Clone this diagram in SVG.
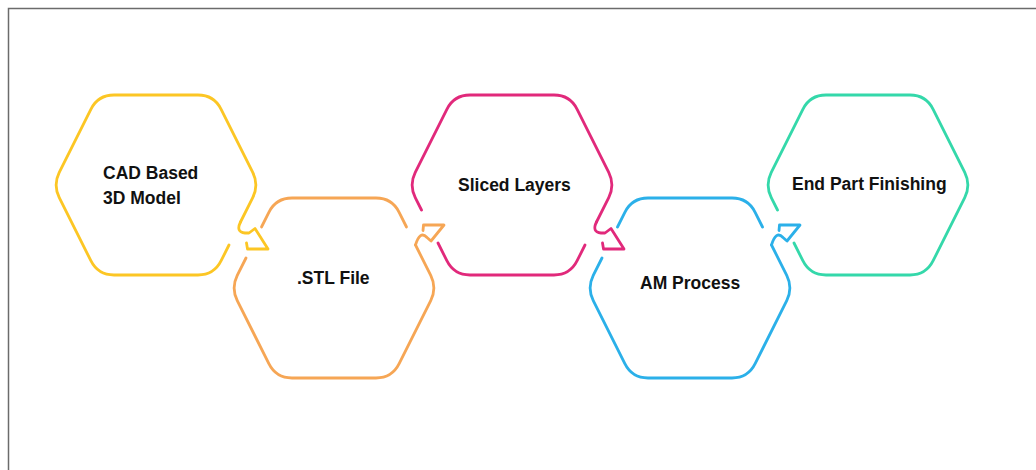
<svg xmlns="http://www.w3.org/2000/svg" width="1036" height="470" viewBox="0 0 1036 470">
<style>
.hx{fill:none;stroke-width:2.8;stroke-linecap:round;stroke-linejoin:round}
.y{stroke:#FCC624}.o{stroke:#F6A655}.p{stroke:#E1297B}.b{stroke:#2BB0E9}.g{stroke:#34D8AA}
.t{font-family:"Liberation Sans",Arial,sans-serif;font-weight:bold;font-size:17.5px;fill:#111}
</style>
<rect width="1036" height="470" fill="#fff"/>
<path d="M8.5,470 V8.5 H1036" fill="none" stroke="#6b6b6b" stroke-width="1.5"/>
<g id="node-cad">
<path class="hx y" d="M229,245 L221.15,260.7 Q214,275 198,275 L114,275 Q98,275 90.85,260.7 L59.26,197.52 Q53,185 59.26,172.48 L90.85,109.3 Q98,95 114,95 L198,95 Q214,95 221.15,109.3 L252.74,172.48 Q259,185 252.74,197.52 L240.5,222"/>
<text class="t" x="103" y="179">CAD Based</text>
<text class="t" x="103" y="204">3D Model</text>
</g>
<g id="node-stl">
<path class="hx o" d="M261.5,227 L268.85,212.3 Q276,198 292,198 L376,198 Q392,198 399.15,212.3 L406.5,227"/>
<path class="hx o" d="M415.5,245 L430.74,275.48 Q437,288 430.74,300.52 L399.15,363.7 Q392,378 376,378 L292,378 Q276,378 268.85,363.7 L237.26,300.52 Q231,288 237.26,275.48 L246,258"/>
<text class="t" x="297" y="284">.STL File</text>
</g>
<g id="node-sliced">
<path class="hx p" d="M438,243 L446.85,260.7 Q454,275 470,275 L554,275 Q570,275 577.15,260.7 L585,245"/>
<path class="hx p" d="M596.5,222 L608.74,197.52 Q615,185 608.74,172.48 L577.15,109.3 Q570,95 554,95 L470,95 Q454,95 446.85,109.3 L415.26,172.48 Q409,185 415.26,197.52 L421.5,210"/>
<text class="t" x="458" y="191">Sliced Layers</text>
</g>
<g id="node-am">
<path class="hx b" d="M617.5,227 L624.85,212.3 Q632,198 648,198 L732,198 Q748,198 755.15,212.3 L762.5,227"/>
<path class="hx b" d="M771.5,245 L786.74,275.48 Q793,288 786.74,300.52 L755.15,363.7 Q748,378 732,378 L648,378 Q632,378 624.85,363.7 L593.26,300.52 Q587,288 593.26,275.48 L602,258"/>
<text class="t" x="640" y="289">AM Process</text>
</g>
<g id="node-end">
<path class="hx g" d="M794,243 L802.85,260.7 Q810,275 826,275 L910,275 Q926,275 933.15,260.7 L964.74,197.52 Q971,185 964.74,172.48 L933.15,109.3 Q926,95 910,95 L826,95 Q810,95 802.85,109.3 L771.26,172.48 Q765,185 771.26,197.52 L777.5,210"/>
<text class="t" x="792" y="190">End Part Finishing</text>
</g>
<g id="connectors">
<path class="hx y" d="M240.5,222 Q235.5,232 245,233 L249,233 L255,228.5 L268,249 L247.5,249 L246.5,243"/>
<path class="hx o" d="M415.5,245 Q420,230 427,237.5 L431,241 L444,225 L423.5,225 L423,230.5"/>
<path class="hx p" d="M596.5,222 Q591.5,232 601,233 L605,233 L611,228.5 L624,249 L603.5,249 L602.5,243"/>
<path class="hx b" d="M771.5,245 Q776,230 783,237.5 L787,241 L800,225 L779.5,225 L779,230.5"/>
</g>
</svg>
